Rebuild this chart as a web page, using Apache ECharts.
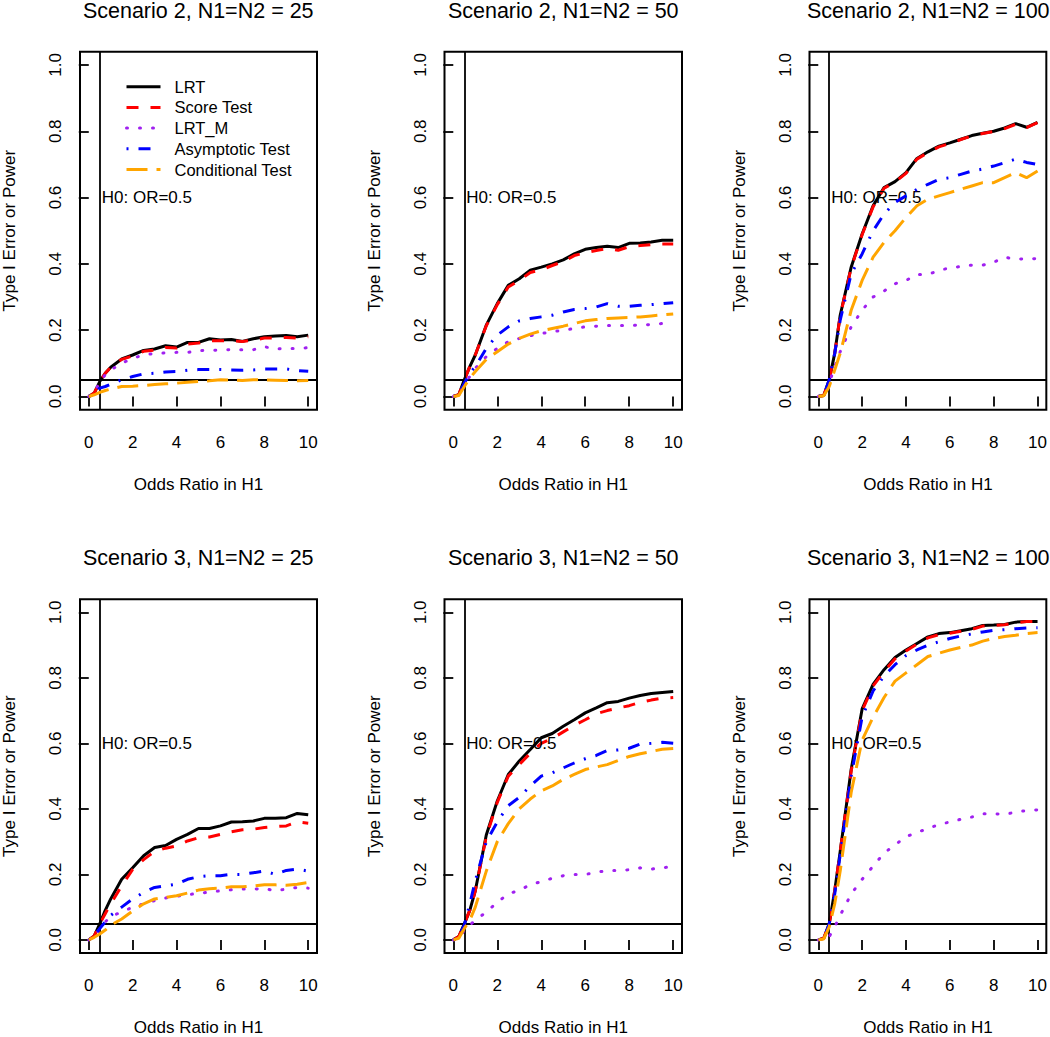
<!DOCTYPE html>
<html>
<head>
<meta charset="utf-8">
<script src="https://cdn.jsdelivr.net/npm/echarts@6.0.0/dist/echarts.min.js"></script>
<style>
html,body{margin:0;padding:0;background:#fff;}
#chart{width:1050px;height:1037px;}
</style>
</head>
<body>
<div id="chart"></div>
<script>
// ---- data ----
const oddsRatio = [0, 0.25, 0.5, 0.75, 1, 1.5, 2, 2.5, 3, 3.5, 4, 4.5, 5, 5.5, 6, 6.5, 7, 7.5, 8, 8.5, 9, 9.5, 10];
const xTicks = [0, 2, 4, 6, 8, 10];
const yTicks = [0, 0.2, 0.4, 0.6, 0.8, 1.0];
const testNames = ['LRT', 'Score Test', 'LRT_M', 'Asymptotic Test', 'Conditional Test'];
const panelTitles = ['Scenario 2, N1=N2 = 25', 'Scenario 2, N1=N2 = 50', 'Scenario 2, N1=N2 = 100',
                     'Scenario 3, N1=N2 = 25', 'Scenario 3, N1=N2 = 50', 'Scenario 3, N1=N2 = 100'];
const h0Value = 0.5;
const alphaLevel = 0.05;

// Scenario 2, N=25
const s2n25_LRT   = [0, 0.01, 0.045, 0.07, 0.088, 0.113, 0.125, 0.139, 0.143, 0.153, 0.149, 0.163, 0.163, 0.174, 0.170, 0.172, 0.166, 0.174, 0.180, 0.182, 0.184, 0.180, 0.185];
const s2n25_Score = [0, 0.01, 0.045, 0.07, 0.088, 0.112, 0.122, 0.136, 0.140, 0.148, 0.146, 0.158, 0.161, 0.168, 0.168, 0.168, 0.166, 0.170, 0.176, 0.177, 0.178, 0.176, 0.180];
const s2n25_LRTM  = [0, 0.01, 0.045, 0.065, 0.08, 0.10, 0.115, 0.125, 0.13, 0.131, 0.133, 0.133, 0.138, 0.139, 0.14, 0.141, 0.141, 0.141, 0.15, 0.143, 0.145, 0.145, 0.147];
const s2n25_Asym  = [0, 0.008, 0.025, 0.03, 0.037, 0.05, 0.06, 0.068, 0.07, 0.074, 0.075, 0.079, 0.081, 0.081, 0.081, 0.080, 0.079, 0.08, 0.083, 0.083, 0.083, 0.078, 0.076];
const s2n25_Cond  = [0, 0.005, 0.012, 0.018, 0.022, 0.03, 0.031, 0.033, 0.036, 0.038, 0.04, 0.043, 0.045, 0.047, 0.05, 0.049, 0.048, 0.05, 0.05, 0.049, 0.048, 0.047, 0.048];
// Scenario 2, N=50
const s2n50_LRT   = [0, 0.005, 0.05, 0.09, 0.125, 0.215, 0.28, 0.335, 0.355, 0.381, 0.39, 0.40, 0.412, 0.43, 0.444, 0.449, 0.453, 0.449, 0.462, 0.463, 0.466, 0.471, 0.471];
const s2n50_Score = [0, 0.005, 0.05, 0.09, 0.125, 0.213, 0.277, 0.33, 0.35, 0.374, 0.382, 0.395, 0.407, 0.425, 0.434, 0.44, 0.446, 0.441, 0.452, 0.455, 0.458, 0.46, 0.46];
const s2n50_LRTM  = [0, 0.003, 0.04, 0.06, 0.085, 0.12, 0.145, 0.165, 0.175, 0.183, 0.19, 0.195, 0.2, 0.205, 0.21, 0.212, 0.214, 0.214, 0.214, 0.215, 0.217, 0.22, 0.222];
const s2n50_Asym  = [0, 0.005, 0.04, 0.07, 0.09, 0.145, 0.185, 0.21, 0.228, 0.235, 0.24, 0.245, 0.255, 0.262, 0.265, 0.27, 0.28, 0.272, 0.272, 0.275, 0.277, 0.28, 0.283];
const s2n50_Cond  = [0, 0.003, 0.03, 0.055, 0.075, 0.112, 0.135, 0.158, 0.175, 0.188, 0.198, 0.205, 0.212, 0.22, 0.228, 0.232, 0.235, 0.237, 0.238, 0.24, 0.243, 0.246, 0.249];
// Scenario 2, N=100
const s2n100_LRT   = [0, 0.003, 0.05, 0.13, 0.245, 0.39, 0.49, 0.575, 0.63, 0.648, 0.675, 0.718, 0.738, 0.755, 0.765, 0.776, 0.787, 0.794, 0.80, 0.81, 0.823, 0.812, 0.827];
const s2n100_Score = [0, 0.003, 0.05, 0.13, 0.243, 0.388, 0.488, 0.572, 0.628, 0.647, 0.673, 0.716, 0.736, 0.753, 0.763, 0.775, 0.786, 0.793, 0.799, 0.808, 0.821, 0.811, 0.826];
const s2n100_LRTM  = [0, 0.002, 0.04, 0.09, 0.135, 0.21, 0.26, 0.30, 0.318, 0.34, 0.35, 0.368, 0.368, 0.38, 0.388, 0.392, 0.396, 0.396, 0.405, 0.42, 0.414, 0.415, 0.416];
const s2n100_Asym  = [0, 0.003, 0.05, 0.13, 0.23, 0.37, 0.43, 0.50, 0.55, 0.585, 0.605, 0.625, 0.64, 0.655, 0.66, 0.67, 0.68, 0.686, 0.695, 0.705, 0.716, 0.706, 0.70];
const s2n100_Cond  = [0, 0.002, 0.03, 0.08, 0.13, 0.26, 0.35, 0.42, 0.465, 0.50, 0.54, 0.575, 0.595, 0.605, 0.615, 0.625, 0.635, 0.645, 0.645, 0.66, 0.675, 0.66, 0.68];
// Scenario 3, N=25
const s3n25_LRT   = [0, 0.012, 0.049, 0.09, 0.125, 0.185, 0.22, 0.257, 0.282, 0.288, 0.307, 0.322, 0.34, 0.34, 0.348, 0.36, 0.361, 0.363, 0.371, 0.371, 0.373, 0.386, 0.382];
const s3n25_Score = [0, 0.012, 0.049, 0.08, 0.11, 0.165, 0.215, 0.245, 0.27, 0.28, 0.287, 0.302, 0.312, 0.314, 0.322, 0.33, 0.336, 0.338, 0.343, 0.346, 0.348, 0.36, 0.356];
const s3n25_LRTM  = [0, 0.008, 0.035, 0.055, 0.072, 0.085, 0.1, 0.11, 0.12, 0.128, 0.133, 0.138, 0.142, 0.146, 0.15, 0.153, 0.155, 0.155, 0.157, 0.15, 0.155, 0.16, 0.158];
const s3n25_Asym  = [0, 0.01, 0.035, 0.055, 0.075, 0.1, 0.125, 0.145, 0.16, 0.165, 0.17, 0.185, 0.193, 0.196, 0.196, 0.2, 0.2, 0.205, 0.21, 0.2, 0.212, 0.216, 0.21];
const s3n25_Cond  = [0, 0.008, 0.018, 0.03, 0.045, 0.064, 0.088, 0.11, 0.125, 0.13, 0.135, 0.143, 0.152, 0.156, 0.158, 0.162, 0.162, 0.165, 0.168, 0.168, 0.167, 0.17, 0.175];
// Scenario 3, N=50
const s3n50_LRT   = [0, 0.01, 0.049, 0.09, 0.15, 0.32, 0.424, 0.505, 0.546, 0.581, 0.617, 0.63, 0.652, 0.672, 0.693, 0.708, 0.724, 0.728, 0.738, 0.746, 0.752, 0.755, 0.758];
const s3n50_Score = [0, 0.01, 0.049, 0.09, 0.15, 0.315, 0.42, 0.50, 0.535, 0.57, 0.6, 0.615, 0.635, 0.655, 0.672, 0.69, 0.7, 0.708, 0.715, 0.725, 0.732, 0.738, 0.74];
const s3n50_LRTM  = [0, 0.003, 0.03, 0.045, 0.06, 0.085, 0.115, 0.14, 0.152, 0.168, 0.178, 0.188, 0.196, 0.2, 0.2, 0.206, 0.212, 0.212, 0.214, 0.22, 0.216, 0.221, 0.222];
const s3n50_Asym  = [0, 0.01, 0.045, 0.11, 0.18, 0.3, 0.36, 0.41, 0.435, 0.47, 0.50, 0.51, 0.525, 0.54, 0.553, 0.563, 0.578, 0.58, 0.585, 0.598, 0.6, 0.603, 0.6];
const s3n50_Cond  = [0, 0.005, 0.035, 0.06, 0.10, 0.21, 0.30, 0.355, 0.40, 0.43, 0.455, 0.47, 0.49, 0.505, 0.52, 0.528, 0.535, 0.548, 0.56, 0.568, 0.575, 0.582, 0.584];
// Scenario 3, N=100
const s3n100_LRT   = [0, 0.005, 0.049, 0.15, 0.27, 0.52, 0.705, 0.78, 0.825, 0.862, 0.885, 0.905, 0.925, 0.935, 0.938, 0.944, 0.95, 0.96, 0.961, 0.963, 0.97, 0.972, 0.972];
const s3n100_Score = [0, 0.005, 0.049, 0.15, 0.27, 0.515, 0.70, 0.775, 0.82, 0.858, 0.882, 0.903, 0.922, 0.932, 0.936, 0.942, 0.948, 0.958, 0.96, 0.962, 0.968, 0.972, 0.972];
const s3n100_LRTM  = [0, 0.002, 0.01, 0.04, 0.075, 0.14, 0.185, 0.225, 0.265, 0.29, 0.315, 0.328, 0.34, 0.352, 0.36, 0.368, 0.375, 0.385, 0.385, 0.383, 0.39, 0.395, 0.397];
const s3n100_Asym  = [0, 0.005, 0.049, 0.14, 0.26, 0.5, 0.68, 0.76, 0.805, 0.84, 0.868, 0.885, 0.9, 0.91, 0.92, 0.928, 0.934, 0.94, 0.945, 0.947, 0.95, 0.952, 0.953];
const s3n100_Cond  = [0, 0.003, 0.04, 0.11, 0.21, 0.45, 0.61, 0.68, 0.74, 0.79, 0.815, 0.84, 0.865, 0.875, 0.885, 0.893, 0.9, 0.912, 0.92, 0.926, 0.93, 0.935, 0.938];

const panels = [
  [s2n25_LRT, s2n25_Score, s2n25_LRTM, s2n25_Asym, s2n25_Cond],
  [s2n50_LRT, s2n50_Score, s2n50_LRTM, s2n50_Asym, s2n50_Cond],
  [s2n100_LRT, s2n100_Score, s2n100_LRTM, s2n100_Asym, s2n100_Cond],
  [s3n25_LRT, s3n25_Score, s3n25_LRTM, s3n25_Asym, s3n25_Cond],
  [s3n50_LRT, s3n50_Score, s3n50_LRTM, s3n50_Asym, s3n50_Cond],
  [s3n100_LRT, s3n100_Score, s3n100_LRTM, s3n100_Asym, s3n100_Cond]
];

// ---- styling / layout ----
const FONT = '"Liberation Sans", Arial, Helvetica, sans-serif';
const lineColors = ['#000000', '#FF0000', '#A020F0', '#0000FF', '#FFA500'];
const lineStyles = [
  {color: lineColors[0], width: 3, type: 'solid'},
  {color: lineColors[1], width: 3, type: [12, 12]},
  {color: lineColors[2], width: 3, type: [1, 12], cap: 'round'},
  {color: lineColors[3], width: 3, type: [2, 10, 12, 10], cap: 'butt'},
  {color: lineColors[4], width: 3, type: [21, 9]}
];
const gridLefts = [79.5, 444.5, 809.5];
const gridTops = [51.7, 599.2];
const gridW = 237.5;
const gridHs = [358, 355];
const titleCenters = [11, 557.8];

const grids = [], xAxes = [], yAxes = [], series = [], graphics = [];
for (let p = 0; p < 6; p++) {
  const r = Math.floor(p / 3), c = p % 3;
  grids.push({left: gridLefts[c], top: gridTops[r], width: gridW, height: gridHs[r],
    show: true, borderColor: '#000', borderWidth: 2, backgroundColor: 'transparent'});
  xAxes.push({type: 'value', gridIndex: p, min: -0.4, max: 10.4,
    name: 'Odds Ratio in H1', nameLocation: 'middle', nameGap: 66,
    nameTextStyle: {color: '#000', fontSize: 17, fontFamily: FONT},
    axisLine: {show: false}, splitLine: {show: false},
    axisTick: {show: true, customValues: xTicks, length: 10, lineStyle: {color: '#000', width: 1.8}},
    axisLabel: {customValues: xTicks, color: '#000', fontSize: 17, fontFamily: FONT, margin: 24}
  });
  yAxes.push({type: 'value', gridIndex: p, min: -0.04, max: 1.04,
    name: 'Type I Error or Power', nameLocation: 'middle', nameGap: 62, nameRotate: 90,
    nameTextStyle: {color: '#000', fontSize: 17, fontFamily: FONT},
    axisLine: {show: false}, splitLine: {show: false},
    axisTick: {show: true, customValues: yTicks, length: 10, lineStyle: {color: '#000', width: 1.8}},
    axisLabel: {customValues: yTicks, rotate: 90, color: '#000', fontSize: 17, fontFamily: FONT, margin: 16,
      formatter: v => v.toFixed(1)}
  });
  panels[p].forEach((vals, t) => {
    const s = {
      type: 'line', name: testNames[t], xAxisIndex: p, yAxisIndex: p,
      data: oddsRatio.map((x, i) => [x, vals[i]]),
      symbol: 'none', showSymbol: false, silent: true, z: 3 + t,
      itemStyle: {color: lineColors[t]},
      lineStyle: lineStyles[t]
    };
    if (t === 0) {
      s.markLine = {silent: true, symbol: 'none', animation: false,
        label: {show: false},
        lineStyle: {color: '#000', width: 1.8, type: 'solid'},
        data: [{xAxis: h0Value}, {yAxis: alphaLevel}]};
      s.markPoint = {silent: true, symbol: 'circle', symbolSize: 0, animation: false,
        data: [{coord: [h0Value, 0.6]}],
        label: {show: true, position: 'right', distance: 2, formatter: 'H0: OR=0.5',
          color: '#000', fontSize: 17, fontFamily: FONT}};
    }
    series.push(s);
  });
  graphics.push({type: 'text', x: gridLefts[c] + gridW / 2, y: titleCenters[r],
    style: {text: panelTitles[p], fill: '#000', font: '21.5px ' + FONT,
      textAlign: 'center', textVerticalAlign: 'middle', align: 'center', verticalAlign: 'middle'}});
}

const chart = echarts.init(document.getElementById('chart'), null, {renderer: 'svg'});
chart.setOption({
  animation: false,
  backgroundColor: '#fff',
  grid: grids, xAxis: xAxes, yAxis: yAxes, series: series,
  graphic: graphics,
  legend: {
    data: testNames, orient: 'vertical', left: 125, top: 78.2, padding: 0,
    itemWidth: 34, itemHeight: 14, itemGap: 3.7, selectedMode: false,
    itemStyle: {opacity: 0},
    lineStyle: {width: 3},
    textStyle: {color: '#000', fontSize: 16.5, fontFamily: FONT, lineHeight: 14, padding: [0, 0, 0, 9]}
  }
});
</script>
</body>
</html>
